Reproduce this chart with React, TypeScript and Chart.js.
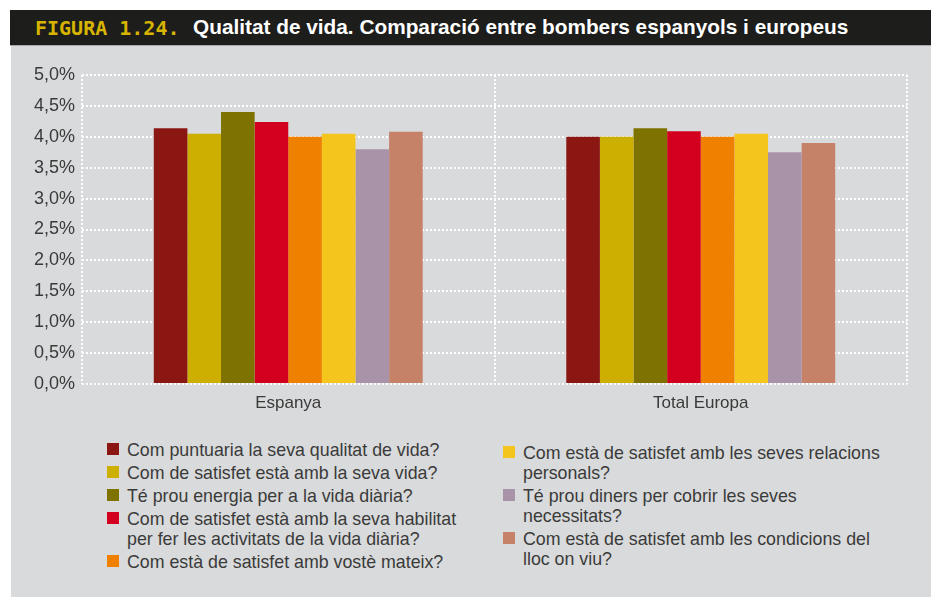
import React, { useEffect, useRef } from "react";
import { Chart, registerables } from "chart.js";

Chart.register(...registerables);

const categories = ["Espanya", "Total Europa"];
const seriesLabels = [
  "Com puntuaria la seva qualitat de vida?",
  "Com de satisfet està amb la seva vida?",
  "Té prou energia per a la vida diària?",
  "Com de satisfet està amb la seva habilitat\nper fer les activitats de la vida diària?",
  "Com està de satisfet amb vostè mateix?",
  "Com està de satisfet amb les seves relacions\npersonals?",
  "Té prou diners per cobrir les seves\nnecessitats?",
  "Com està de satisfet amb les condicions del\nlloc on viu?",
];
const seriesColors = [
  "#8b1713",
  "#ccaf00",
  "#7e7200",
  "#d2001e",
  "#ef8000",
  "#f4c61d",
  "#a993a9",
  "#c58268",
];
const espanyaValues = [4.14, 4.05, 4.4, 4.24, 4.0, 4.05, 3.8, 4.08];
const europaValues = [4.0, 4.0, 4.14, 4.09, 4.0, 4.05, 3.75, 3.9];
const yTicks = [0, 0.5, 1, 1.5, 2, 2.5, 3, 3.5, 4, 4.5, 5];

const FONT = "'Liberation Sans', Arial, sans-serif";

export default function App() {
  const ref = useRef<HTMLCanvasElement | null>(null);

  useEffect(() => {
    if (!ref.current) return;
    const chart = new Chart(ref.current, {
      type: "bar",
      data: {
        labels: categories,
        datasets: seriesLabels.map((l, i) => ({
          label: l.replace("\n", " "),
          data: [espanyaValues[i], europaValues[i]],
          backgroundColor: seriesColors[i],
          borderWidth: 0,
          barPercentage: 1,
          categoryPercentage: 0.652,
        })),
      },
      options: {
        animation: false,
        responsive: false,
        maintainAspectRatio: false,
        layout: { padding: { left: 11, right: 24, top: 29, bottom: 0 } },
        plugins: {
          legend: { display: false },
          title: { display: false },
          tooltip: { enabled: false },
        },
        scales: {
          x: {
            offset: true,
            grid: {
              offset: true,
              color: "#ffffff",
              lineWidth: 2,
              drawTicks: false,
            },
            border: { display: false, dash: [2, 2] },
            ticks: {
              color: "#3a3a3a",
              font: { family: FONT, size: 17 },
              padding: 9,
            },
            afterFit: (s: any) => {
              s.height = 42;
            },
          },
          y: {
            min: 0,
            max: 5,
            afterBuildTicks: (s: any) => {
              s.ticks = yTicks.map((v) => ({ value: v }));
            },
            grid: {
              color: "#ffffff",
              lineWidth: 2,
              drawTicks: false,
            },
            border: { display: false, dash: [2, 2] },
            ticks: {
              color: "#3a3a3a",
              font: { family: FONT, size: 18 },
              padding: 7,
              callback: (v: any) => Number(v).toFixed(1).replace(".", ",") + "%",
            },
            afterFit: (s: any) => {
              s.width = 60;
            },
          },
        },
      },
    });
    return () => chart.destroy();
  }, []);

  const left = seriesLabels.slice(0, 5).map((l, i) => ({ l, c: seriesColors[i] }));
  const right = seriesLabels.slice(5).map((l, i) => ({ l, c: seriesColors[i + 5] }));

  const renderItem = (it: { l: string; c: string }, k: number) => (
    <div key={k} style={{ position: "relative", paddingLeft: 20, marginBottom: 3, whiteSpace: "pre-line" }}>
      <span
        style={{
          position: "absolute",
          left: 0,
          top: 3,
          width: 12,
          height: 12,
          background: it.c,
        }}
      />
      {it.l}
    </div>
  );

  return (
    <div
      style={{
        position: "absolute",
        left: 0,
        top: 0,
        width: 931,
        height: 597,
        background: "#ffffff",
        overflow: "hidden",
      }}
    >
      <div
        style={{
          position: "absolute",
          left: 10,
          top: 10,
          width: 921,
          height: 35,
          background: "#1d1d1b",
          borderBottom: "1px solid #a9a9a9",
        }}
      >
        <span
          style={{
            position: "absolute",
            left: 25,
            top: 6,
            fontFamily: "'DejaVu Sans Mono', monospace",
            fontWeight: "bold",
            fontSize: 20,
            color: "#d6b400",
            lineHeight: "24px",
            whiteSpace: "nowrap",
          }}
        >
          FIGURA 1.24.
        </span>
        <span
          style={{
            position: "absolute",
            left: 183,
            top: 5,
            fontFamily: FONT,
            fontWeight: "bold",
            fontSize: 20.8,
            color: "#ffffff",
            lineHeight: "24px",
            whiteSpace: "nowrap",
          }}
        >
          Qualitat de vida. Comparació entre bombers espanyols i europeus
        </span>
      </div>
      <div
        style={{
          position: "absolute",
          left: 11,
          top: 46,
          width: 920,
          height: 551,
          background: "#d9dadb",
        }}
      >
        <canvas ref={ref} width={920} height={380} style={{ position: "absolute", left: 0, top: 0, width: 920, height: 380 }} />
        <div
          style={{
            position: "absolute",
            left: 96,
            top: 394,
            fontFamily: FONT,
            fontSize: 17.8,
            lineHeight: "20px",
            color: "#3a3a3a",
          }}
        >
          {left.map(renderItem)}
        </div>
        <div
          style={{
            position: "absolute",
            left: 492,
            top: 397,
            fontFamily: FONT,
            fontSize: 17.8,
            lineHeight: "20px",
            color: "#3a3a3a",
          }}
        >
          {right.map(renderItem)}
        </div>
      </div>
    </div>
  );
}
